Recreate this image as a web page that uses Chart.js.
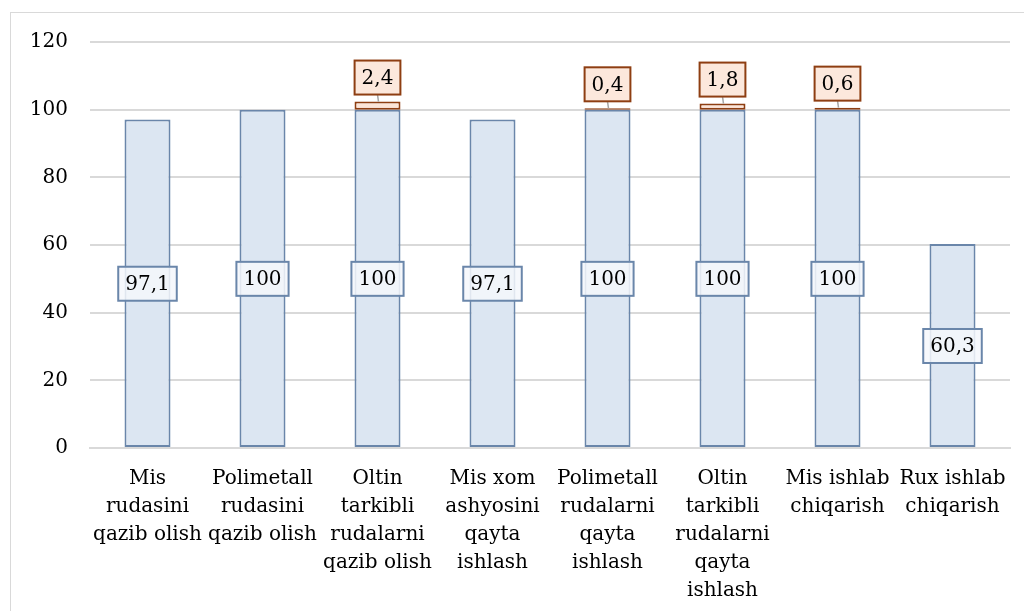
<!DOCTYPE html>
<html>
<head>
<meta charset="utf-8">
<script src="https://cdn.jsdelivr.net/npm/chart.js@4.4.1/dist/chart.umd.min.js"></script>
<style>
  body { margin: 0; background: #fff; }
  #frame { position: absolute; left: 10px; top: 12px; width: 1030px; height: 620px; border: 1px solid #d9d9d9; }
  #wrap { position: absolute; left: 0; top: 0; width: 1024px; height: 611px; }
</style>
</head>
<body>
<div id="frame"></div>
<div id="wrap"><canvas id="chart" width="1024" height="611"></canvas></div>
<script>
// categories (multi-line, as in the original)
const categories = [
  ['Mis', 'rudasini', 'qazib olish'],
  ['Polimetall', 'rudasini', 'qazib olish'],
  ['Oltin', 'tarkibli', 'rudalarni', 'qazib olish'],
  ['Mis xom', 'ashyosini', 'qayta', 'ishlash'],
  ['Polimetall', 'rudalarni', 'qayta', 'ishlash'],
  ['Oltin', 'tarkibli', 'rudalarni', 'qayta', 'ishlash'],
  ['Mis ishlab', 'chiqarish'],
  ['Rux ishlab', 'chiqarish']
];
const baseValues = [97.1, 100, 100, 97.1, 100, 100, 100, 60.3];
const extraValues = [null, null, 2.4, null, 0.4, 1.8, 0.6, null];
const yTicks = [0, 20, 40, 60, 80, 100, 120];

const FONT = 'DejaVu Serif';
const fmt = v => String(v).replace('.', ',');

// boxed data labels: blue ones in the middle of the bar, orange ones above
const boxLabels = {
  id: 'boxLabels',
  afterDatasetsDraw(chart) {
    const ctx = chart.ctx;
    const y = chart.scales.y;
    ctx.save();
    ctx.font = '20px "' + FONT + '"';
    ctx.textAlign = 'center';
    ctx.textBaseline = 'middle';
    const drawBox = (cx, cy, text, fill, stroke) => {
      const w = ctx.measureText(text).width + 14;
      const h = 34;
      ctx.fillStyle = fill;
      ctx.fillRect(cx - w / 2, cy - h / 2, w, h);
      ctx.lineWidth = 2;
      ctx.strokeStyle = stroke;
      ctx.strokeRect(cx - w / 2, cy - h / 2, w, h);
      ctx.fillStyle = '#000';
      ctx.fillText(text, cx, cy + 1);
    };
    chart.getDatasetMeta(0).data.forEach((bar, i) => {
      const v = baseValues[i];
      drawBox(bar.x, y.getPixelForValue(v / 2), fmt(v), 'rgba(244,247,252,0.85)', '#6a86aa');
    });
    chart.getDatasetMeta(1).data.forEach((bar, i) => {
      const v = extraValues[i];
      if (v == null) return;
      const top = y.getPixelForValue(baseValues[i] + v);
      const cy = top - 24;
      if (top - (cy + 17) > 4) {
        ctx.strokeStyle = '#a6a6a6';
        ctx.lineWidth = 1.5;
        ctx.beginPath();
        ctx.moveTo(bar.x, cy + 17);
        ctx.lineTo(bar.x + 1, top);
        ctx.stroke();
      }
      drawBox(bar.x, cy, fmt(v), '#fce8dc', '#8e3e12');
    });
    ctx.restore();
  }
};

new Chart(document.getElementById('chart'), {
  type: 'bar',
  data: {
    labels: categories,
    datasets: [
      {
        data: baseValues,
        backgroundColor: '#dce6f2',
        borderColor: '#6a86aa',
        borderWidth: 2,
        borderSkipped: false
      },
      {
        data: extraValues,
        backgroundColor: '#fce5d8',
        borderColor: '#8e3e12',
        borderWidth: 2,
        borderSkipped: false
      }
    ]
  },
  options: {
    responsive: false,
    animation: false,
    layout: { padding: { top: 42, right: 14, left: 0, bottom: 0 } },
    datasets: { bar: { categoryPercentage: 1, barPercentage: 0.4 } },
    plugins: { legend: { display: false }, tooltip: { enabled: false } },
    scales: {
      x: {
        stacked: true,
        grid: { display: false },
        border: { color: '#d9d9d9', width: 2 },
        ticks: {
          color: '#000',
          padding: 9,
          maxRotation: 0,
          autoSkip: false,
          font: { family: FONT, size: 20, lineHeight: 1.4 }
        },
        afterFit(scale) { scale.height = 163; }
      },
      y: {
        stacked: true,
        min: 0,
        max: 120,
        afterBuildTicks(scale) { scale.ticks = yTicks.map(v => ({ value: v })); },
        grid: { color: '#d9d9d9', lineWidth: 2, drawTicks: false },
        border: { display: false },
        ticks: {
          color: '#000',
          padding: 22,
          font: { family: FONT, size: 20 }
        },
        afterFit(scale) { scale.width = 90; }
      }
    }
  },
  plugins: [boxLabels]
});
</script>
</body>
</html>
